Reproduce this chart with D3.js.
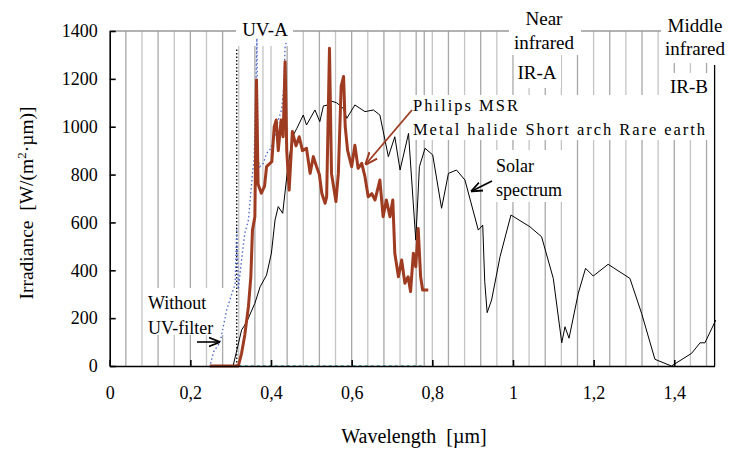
<!doctype html>
<html>
<head>
<meta charset="utf-8">
<script src="https://d3js.org/d3.v7.min.js"></script>
<style>
  body { margin: 0; background: #fff; }
  text { font-family: "Liberation Serif", "Times New Roman", serif; }
</style>
</head>
<body>
<svg id="chart" width="729" height="449"></svg>
<script>
// wavelength in µm, irradiance in W/(m2·µm)
const solarX = [0.306,0.327,0.34,0.36,0.373,0.389,0.401,0.41,0.418,0.429,0.44,0.453,0.464,0.48,0.488,0.509,0.521,0.53,0.542,0.55,0.563,0.579,0.588,0.608,0.633,0.654,0.67,0.691,0.707,0.72,0.741,0.759,0.768,0.782,0.801,0.823,0.84,0.86,0.881,0.914,0.925,0.93,0.936,0.947,0.968,0.995,1.042,1.071,1.1,1.121,1.129,1.139,1.162,1.18,1.199,1.236,1.29,1.319,1.352,1.393,1.443,1.464,1.476,1.503];
const solarY = [0,150,185,262,331,380,472,610,666,638,805,958,993,1049,1007,1070,1021,1087,1091,1107,1100,1077,1035,1091,1063,1070,1049,875,958,819,972,526,833,910,882,659,805,819,777,568,589,352,223,276,457,631,582,540,366,97,164,116,304,408,376,425,366,220,28,0,53,97,97,192];

const msrX = [0.248,0.319,0.327,0.335,0.344,0.35,0.354,0.36,0.364,0.368,0.376,0.384,0.389,0.402,0.408,0.413,0.418,0.425,0.43,0.435,0.439,0.445,0.453,0.462,0.47,0.478,0.488,0.497,0.505,0.513,0.52,0.526,0.534,0.538,0.545,0.55,0.561,0.567,0.574,0.58,0.584,0.59,0.6,0.608,0.616,0.625,0.633,0.641,0.65,0.658,0.67,0.678,0.686,0.695,0.702,0.707,0.716,0.724,0.732,0.74,0.746,0.753,0.759,0.765,0.771,0.776,0.79];
const msrY = [0,0,53,130,248,373,568,624,1195,760,722,752,833,854,1000,1028,900,1028,958,1272,900,735,980,920,958,900,910,805,875,833,800,722,680,707,1328,805,687,805,1170,1210,1000,900,833,923,826,847,791,707,720,694,777,624,694,624,694,471,373,443,346,373,311,471,415,575,373,318,318];

const noFilterX = [0.25,0.258,0.265,0.274,0.28,0.29,0.298,0.306,0.311,0.315,0.319,0.327,0.335,0.344,0.354,0.358,0.363,0.365,0.368,0.372,0.381,0.389,0.397,0.41,0.418,0.426,0.431,0.435,0.439];
const noFilterY = [10,60,78,100,150,234,276,318,340,580,320,443,554,610,805,861,1195,1370,861,833,847,889,903,958,1028,1070,1150,1334,1360];

const uvLimitX = [0.315, 0.315];
const uvLimitY = [0, 1330];
const filteredX = [0.32, 0.78];
const filteredY = [0, 0];

const gridX = d3.range(1, 38).map(i => +(i * 0.04).toFixed(2)).concat([0.38, 0.78]);
const xTicks = [0, 0.2, 0.4, 0.6, 0.8, 1, 1.2, 1.4];
const yTicks = [0, 200, 400, 600, 800, 1000, 1200, 1400];

const svg = d3.select("#chart");
const x = d3.scaleLinear().domain([0, 1.5]).range([109.7, 714.6]);
const y = d3.scaleLinear().domain([0, 1400]).range([366, 31]);
const fmt = d => String(d).replace(".", ",");

const defs = svg.append("defs");
function arrow(id, color) {
  defs.append("marker").attr("id", id).attr("viewBox", "0 0 10 10")
    .attr("refX", 9).attr("refY", 5).attr("markerWidth", 7).attr("markerHeight", 7)
    .attr("orient", "auto")
    .append("path").attr("d", "M0,1 L10,5 L0,9").attr("fill", "none")
    .attr("stroke", color).attr("stroke-width", 1.6);
}
arrow("ab", "#000");
arrow("ar", "#9e3b20");

// grid
svg.append("g").selectAll("line").data(gridX).join("line")
  .attr("x1", d => x(d)).attr("x2", d => x(d))
  .attr("y1", y(1400)).attr("y2", y(0))
  .attr("stroke", (d, i) => i % 2 ? "#c4c4c4" : "#a8a8a8").attr("stroke-width", 1.3);
svg.append("line").attr("x1", x(0)).attr("x2", x(1.5)).attr("y1", y(1400)).attr("y2", y(1400))
  .attr("stroke", "#999").attr("stroke-width", 1.3);

// label boxes over the grid
function box(x0, y0, w, h) {
  svg.append("rect").attr("x", x0).attr("y", y0).attr("width", w).attr("height", h).attr("fill", "#fff");
}
box(236, 12, 57, 34);
box(509, 0, 72, 55);
box(515, 55, 46, 33);
box(661, 4, 68, 59);
box(667, 73, 46, 26);
box(407, 95, 302, 45);
box(492, 150, 80, 52);
box(143, 288, 84, 47);

// lines
const line = d3.line().x(d => x(d[0])).y(d => y(d[1]));
const pairs = (xs, ys) => xs.map((v, i) => [v, ys[i]]);

svg.append("path").datum(pairs(filteredX, filteredY)).attr("d", line)
  .attr("fill", "none").attr("stroke", "#3aa6a6").attr("stroke-width", 1.6).attr("stroke-dasharray", "3,3");
svg.append("path").datum(pairs(uvLimitX, uvLimitY)).attr("d", line)
  .attr("fill", "none").attr("stroke", "#000").attr("stroke-width", 1.3).attr("stroke-dasharray", "1.5,2");
svg.append("path").datum(pairs(solarX, solarY)).attr("d", line)
  .attr("fill", "none").attr("stroke", "#000").attr("stroke-width", 1);
svg.append("path").datum(pairs(noFilterX, noFilterY)).attr("d", line)
  .attr("fill", "none").attr("stroke", "#4a63c8").attr("stroke-width", 1.3).attr("stroke-dasharray", "1.5,2.5");
svg.append("path").datum(pairs(msrX, msrY)).attr("d", line)
  .attr("fill", "none").attr("stroke", "#9e3b20").attr("stroke-width", 3).attr("stroke-linejoin", "round");

// axes
const xAxis = svg.append("g").attr("transform", `translate(0,${y(0)})`)
  .call(d3.axisBottom(x).tickValues(xTicks).tickFormat(fmt).tickSize(-6).tickSizeOuter(0).tickPadding(20));
const yAxis = svg.append("g").attr("transform", `translate(${x(0)},0)`)
  .call(d3.axisLeft(y).tickValues(yTicks).tickFormat(d => String(d)).tickSize(-6).tickSizeOuter(0).tickPadding(12));
[xAxis, yAxis].forEach(a => {
  a.select(".domain").attr("stroke", "#000").attr("stroke-width", 1.6);
  a.selectAll(".tick line").attr("stroke", "#000").attr("stroke-width", 1.6);
  a.selectAll("text").attr("font-family", "Liberation Serif").attr("font-size", 18).attr("fill", "#000");
});
svg.append("line").attr("x1", x(1.5)).attr("x2", x(1.5)).attr("y1", 65).attr("y2", y(0))
  .attr("stroke", "#000").attr("stroke-width", 1.3);

// axis titles
svg.append("text").attr("x", 414).attr("y", 443).attr("text-anchor", "middle")
  .attr("font-size", 20).attr("xml:space", "preserve").text("Wavelength  [µm]");
svg.append("text").attr("transform", "translate(33,203) rotate(-90)").attr("text-anchor", "middle")
  .attr("font-size", 19.5).attr("xml:space", "preserve")
  .html('Irradiance  [W/(m<tspan baseline-shift="super" font-size="13">2</tspan>·µm)]');

// region labels
function label(cx, cy, s, size) {
  svg.append("text").attr("x", cx).attr("y", cy).attr("dy", "0.35em").attr("text-anchor", "middle")
    .attr("font-size", size || 19).text(s);
}
label(265, 29, "UV-A");
label(544, 18, "Near");
label(544, 42, "infrared");
label(537, 72, "IR-A");
label(695, 25, "Middle");
label(695, 48, "infrared");
label(689, 86, "IR-B");

// annotations
svg.append("text").attr("x", 413).attr("y", 111).attr("font-family", "Noto Sans").attr("font-size", 16.5)
  .attr("textLength", 105).attr("lengthAdjust", "spacing").text("Philips MSR");
svg.append("text").attr("x", 413).attr("y", 135).attr("font-family", "Noto Sans").attr("font-size", 16.5)
  .attr("textLength", 292).attr("lengthAdjust", "spacing").text("Metal halide Short arch Rare earth");
svg.append("line").attr("x1", 412).attr("y1", 110).attr("x2", 366).attr("y2", 164)
  .attr("stroke", "#9e3b20").attr("stroke-width", 1.8).attr("marker-end", "url(#ar)");

svg.append("text").attr("x", 496).attr("y", 172).attr("font-size", 18).text("Solar");
svg.append("text").attr("x", 496).attr("y", 196).attr("font-size", 18).text("spectrum");
svg.append("line").attr("x1", 492).attr("y1", 181).attr("x2", 472).attr("y2", 191)
  .attr("stroke", "#000").attr("stroke-width", 1.6).attr("marker-end", "url(#ab)");

svg.append("text").attr("x", 148).attr("y", 309).attr("font-size", 18).text("Without");
svg.append("text").attr("x", 148).attr("y", 334).attr("font-size", 18).text("UV-filter");
svg.append("line").attr("x1", 197).attr("y1", 342).attr("x2", 219).attr("y2", 342)
  .attr("stroke", "#000").attr("stroke-width", 1.6).attr("marker-end", "url(#ab)");
</script>
</body>
</html>
